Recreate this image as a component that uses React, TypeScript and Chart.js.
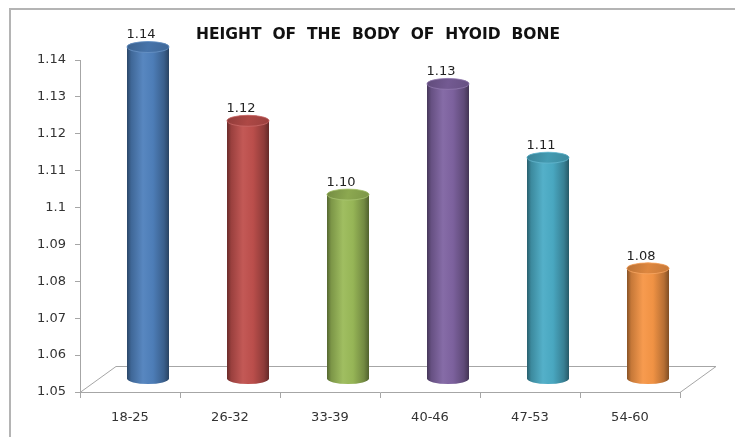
import { useEffect, useRef } from "react";
import { Chart, registerables } from "chart.js";

Chart.register(...registerables);

// Age groups and the measured height (cm) of the hyoid body for each group
const ageGroups = ["18-25", "26-32", "33-39", "40-46", "47-53", "54-60"];
const heights = [1.14, 1.12, 1.1, 1.13, 1.11, 1.08];
const barColors = ["#4f81bd", "#c0504d", "#9bbb59", "#8064a2", "#4bacc6", "#f79646"];
const yMin = 1.05;
const yMax = 1.14;
const yStep = 0.01;
const chartTitle = "HEIGHT  OF  THE  BODY  OF  HYOID  BONE";

// 3D depth offset of the floor (back edge relative to the front edge)
const DEPTH_X = 36;
const DEPTH_Y = 26;
const AXIS_GREY = "#a6a6a6";
const TEXT_FONT = "DejaVu Sans";

function shade(hex: string, f: number): string {
  const n = parseInt(hex.slice(1), 16);
  const ch = (v: number) =>
    Math.max(0, Math.min(255, Math.round(f >= 1 ? v + (255 - v) * (f - 1) : v * f)));
  const r = ch((n >> 16) & 255);
  const g = ch((n >> 8) & 255);
  const b = ch(n & 255);
  return `rgb(${r},${g},${b})`;
}

const framePlugin = {
  id: "frame",
  beforeDraw(chart: any) {
    const { ctx, chartArea } = chart;
    ctx.save();
    ctx.fillStyle = "#ffffff";
    ctx.fillRect(0, 0, chart.width, chart.height);
    // outer border, running off the right and bottom edges
    ctx.strokeStyle = "#b4b4b4";
    ctx.lineWidth = 2;
    ctx.strokeRect(10, 9, chart.width + 40, chart.height + 40);
    // floor of the 3D plot
    const { left, right, bottom } = chartArea;
    ctx.strokeStyle = AXIS_GREY;
    ctx.lineWidth = 1;
    ctx.beginPath();
    ctx.moveTo(left, bottom + 0.5);
    ctx.lineTo(left + DEPTH_X, bottom - DEPTH_Y + 0.5);
    ctx.lineTo(right + DEPTH_X, bottom - DEPTH_Y + 0.5);
    ctx.lineTo(right, bottom + 0.5);
    ctx.stroke();
    // title
    ctx.fillStyle = "#111111";
    ctx.font = `bold 15.5px ${TEXT_FONT}`;
    ctx.textAlign = "center";
    ctx.textBaseline = "middle";
    ctx.fillText(chartTitle, 378, 35);
    ctx.restore();
  },
};

const cylinderPlugin = {
  id: "cylinders",
  afterDatasetsDraw(chart: any) {
    const { ctx } = chart;
    const meta = chart.getDatasetMeta(0);
    const values = chart.data.datasets[0].data as number[];
    meta.data.forEach((bar: any, i: number) => {
      const { x, y, base, width } = bar.getProps(["x", "y", "base", "width"], true);
      const color = barColors[i];
      const cx = x + DEPTH_X / 2;
      const rx = width / 2;
      const ry = 5.5;
      const top = y - DEPTH_Y / 2;
      const bot = base - DEPTH_Y / 2;

      ctx.save();
      // body
      const g = ctx.createLinearGradient(cx - rx, 0, cx + rx, 0);
      g.addColorStop(0, shade(color, 0.55));
      g.addColorStop(0.1, shade(color, 0.8));
      g.addColorStop(0.38, shade(color, 1.05));
      g.addColorStop(0.62, shade(color, 0.97));
      g.addColorStop(0.88, shade(color, 0.74));
      g.addColorStop(1, shade(color, 0.52));
      ctx.fillStyle = g;
      ctx.beginPath();
      ctx.moveTo(cx - rx, top);
      ctx.lineTo(cx - rx, bot);
      ctx.ellipse(cx, bot, rx, ry, 0, Math.PI, 0, true);
      ctx.lineTo(cx + rx, top);
      ctx.ellipse(cx, top, rx, ry, 0, 0, Math.PI, true);
      ctx.closePath();
      ctx.fill();

      // top cap
      const cg = ctx.createLinearGradient(cx - rx, top - ry, cx + rx, top + ry);
      cg.addColorStop(0, shade(color, 0.75));
      cg.addColorStop(0.5, shade(color, 0.9));
      cg.addColorStop(1, shade(color, 0.8));
      ctx.fillStyle = cg;
      ctx.beginPath();
      ctx.ellipse(cx, top, rx, ry, 0, 0, Math.PI * 2);
      ctx.fill();
      ctx.strokeStyle = shade(color, 1.15);
      ctx.lineWidth = 0.8;
      ctx.stroke();

      // value label
      ctx.fillStyle = "#222222";
      ctx.font = `13px ${TEXT_FONT}`;
      ctx.textAlign = "center";
      ctx.textBaseline = "middle";
      ctx.fillText(values[i].toFixed(2), cx - 7, y - 25);
      ctx.restore();
    });
  },
};

export default function App() {
  const canvasRef = useRef<HTMLCanvasElement | null>(null);

  useEffect(() => {
    const canvas = canvasRef.current;
    if (!canvas) return;
    const chart = new Chart(canvas, {
      type: "bar",
      data: {
        labels: ageGroups,
        datasets: [
          {
            data: heights,
            base: yMin,
            backgroundColor: "rgba(0,0,0,0)",
            borderWidth: 0,
            barPercentage: 0.42,
            categoryPercentage: 1,
          },
        ],
      },
      options: {
        animation: false,
        responsive: false,
        maintainAspectRatio: false,
        events: [],
        layout: { padding: { top: 60, right: 55, left: 0, bottom: 0 } },
        plugins: {
          legend: { display: false },
          title: { display: false },
          tooltip: { enabled: false },
        },
        scales: {
          x: {
            offset: true,
            grid: {
              offset: true,
              drawOnChartArea: false,
              drawTicks: true,
              tickLength: 6,
              color: AXIS_GREY,
            },
            border: { display: true, color: AXIS_GREY },
            ticks: {
              color: "#333333",
              font: { family: TEXT_FONT, size: 13 },
              padding: 12,
            },
            afterFit(scale: any) {
              scale.height = 45;
            },
          },
          y: {
            min: yMin,
            max: yMax,
            grid: {
              drawOnChartArea: false,
              drawTicks: true,
              tickLength: 5,
              color: AXIS_GREY,
            },
            border: { display: true, color: AXIS_GREY },
            ticks: {
              stepSize: yStep,
              color: "#333333",
              font: { family: TEXT_FONT, size: 13 },
              padding: 9,
              callback: (v: any) => String(Number(Number(v).toFixed(2))),
            },
            afterFit(scale: any) {
              scale.width = 80;
            },
          },
        },
      },
      plugins: [framePlugin, cylinderPlugin],
    });
    return () => chart.destroy();
  }, []);

  return (
    <div style={{ position: "fixed", left: 0, top: 0, width: 735, height: 437, background: "#fff" }}>
      <canvas ref={canvasRef} width={735} height={437} style={{ display: "block" }} />
    </div>
  );
}
